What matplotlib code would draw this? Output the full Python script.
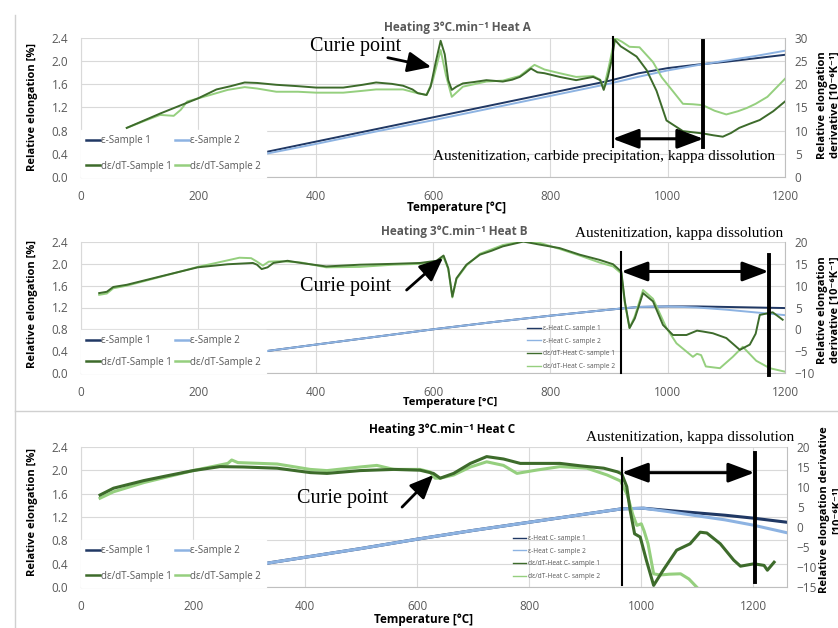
import numpy as np
import matplotlib.pyplot as plt
from matplotlib.lines import Line2D
from matplotlib.ticker import FormatStrFormatter

plt.rcParams['font.family'] = ['Open Sans', 'DejaVu Sans']

# Heat A: relative elongation (left axis, %) and its derivative (right axis)
a_eps_t = [300, 400, 500, 600, 700, 800, 900, 950, 1000, 1050, 1100, 1150, 1200]
a_eps1 = [0.40, 0.61, 0.82, 1.03, 1.24, 1.45, 1.66, 1.79, 1.88, 1.94, 1.99, 2.05, 2.11]
a_eps2 = [0.37, 0.57, 0.78, 0.98, 1.19, 1.40, 1.61, 1.73, 1.84, 1.93, 2.01, 2.09, 2.18]
a_der1_t = [78, 135, 200, 231, 255, 279, 300, 333, 370, 401, 447, 480, 503, 530,
            549, 565, 574, 589, 596, 605, 613, 620, 626, 632, 640, 651, 670, 691,
            719, 735, 748, 758, 767, 778, 790, 816, 844, 860, 873, 885, 891, 898,
            905, 910, 920, 930, 947, 964, 981, 998, 1026, 1060, 1078, 1094, 1108,
            1122, 1140, 1157, 1180, 1200]
a_der1 = [10.6, 13.7, 17.0, 18.9, 19.6, 20.4, 20.3, 19.9, 19.6, 19.3, 19.3, 19.9,
          20.4, 20.1, 19.7, 18.9, 18.1, 17.7, 19.5, 25.0, 29.4, 26.5, 20.9, 18.8,
          19.5, 20.2, 20.5, 20.9, 20.6, 21.0, 21.6, 22.5, 23.4, 22.6, 22.4, 21.6,
          20.9, 21.3, 21.6, 20.9, 18.8, 21.6, 25.5, 29.6, 28.2, 27.4, 26.0, 23.1,
          18.6, 12.2, 9.9, 9.4, 9.0, 8.7, 9.5, 10.6, 11.5, 12.3, 14.2, 16.3]
a_der2_t = [78, 110, 135, 158, 170, 181, 220, 250, 279, 300, 333, 370, 401, 447,
            480, 503, 549, 570, 589, 600, 613, 622, 632, 651, 691, 719, 748, 760,
            773, 790, 816, 844, 873, 885, 891, 900, 910, 922, 935, 952, 975, 990,
            1009, 1026, 1043, 1060, 1080, 1100, 1120, 1135, 1150, 1170, 1200]
a_der2 = [10.6, 12.2, 13.4, 13.2, 14.5, 16.3, 17.7, 18.8, 19.4, 19.1, 18.4, 18.4,
          18.2, 18.2, 18.6, 18.9, 18.9, 18.2, 17.7, 21.0, 27.4, 22.0, 17.3, 19.5,
          20.6, 20.8, 21.8, 23.0, 24.2, 23.2, 22.4, 21.6, 21.8, 21.0, 19.1, 24.0,
          30.0, 29.2, 28.1, 28.0, 24.8, 21.5, 18.5, 15.8, 15.7, 15.5, 14.3, 13.5,
          14.2, 14.9, 15.8, 17.3, 21.2]

# Heat B
b_eps_t = [280, 400, 500, 600, 700, 800, 900, 950, 1000, 1050, 1100, 1150, 1200]
b_eps1 = [0.35, 0.52, 0.66, 0.80, 0.93, 1.05, 1.16, 1.21, 1.22, 1.22, 1.21, 1.20, 1.19]
b_eps2 = [0.35, 0.52, 0.66, 0.80, 0.93, 1.05, 1.16, 1.21, 1.22, 1.20, 1.16, 1.11, 1.06]
b_der1_t = [31, 44, 55, 78, 135, 199, 250, 293, 300, 308, 318, 328, 352, 375, 418,
            475, 532, 578, 606, 618, 626, 633, 640, 657, 680, 700, 719, 754, 782,
            816, 850, 884, 907, 921, 927, 935, 944, 958, 975, 992, 1009, 1032,
            1050, 1060, 1077, 1100, 1123, 1140, 1150, 1157, 1179, 1196]
b_der1 = [8.3, 8.6, 9.7, 10.2, 12.1, 14.2, 14.9, 15.2, 14.8, 13.8, 14.2, 15.2, 15.7,
          15.2, 14.4, 14.8, 15.0, 15.2, 15.7, 16.9, 14.0, 7.5, 11.7, 14.8, 17.1,
          18.0, 19.0, 20.1, 19.4, 18.6, 17.1, 15.9, 14.9, 13.2, 6.4, 0.3, 2.5, 8.3,
          6.4, 1.0, -1.3, -1.3, -0.3, -0.5, -0.9, -2.0, -4.7, -3.5, -1.0, 3.3, 3.9,
          2.2]
b_der2_t = [31, 44, 55, 78, 135, 199, 230, 250, 270, 290, 300, 310, 320, 340, 375,
            418, 475, 532, 578, 606, 618, 626, 633, 640, 657, 680, 719, 754, 782,
            816, 850, 884, 907, 921, 927, 935, 944, 958, 975, 998, 1015, 1043, 1050,
            1057, 1065, 1089, 1111, 1128, 1151, 1174, 1200]
b_der2 = [7.9, 8.2, 9.4, 10.0, 12.0, 14.3, 15.2, 15.8, 16.4, 16.3, 15.5, 14.6, 15.5,
          15.6, 15.3, 14.2, 14.3, 14.8, 15.0, 15.4, 16.5, 13.8, 7.3, 11.5, 14.6,
          17.3, 19.3, 20.2, 19.8, 18.4, 16.9, 15.3, 14.4, 12.8, 6.0, 0.3, 3.0, 9.0,
          7.0, 0.3, -3.2, -6.3, -5.6, -5.9, -8.5, -8.9, -6.3, -4.0, -7.2, -8.9, -9.7]

# Heat C
c_eps_t = [30, 100, 200, 300, 400, 500, 600, 700, 800, 900, 965, 1004, 1050, 1100,
           1150, 1200, 1260]
c_eps1 = [0.0, 0.09, 0.22, 0.36, 0.51, 0.66, 0.82, 0.97, 1.11, 1.25, 1.34, 1.35,
          1.31, 1.27, 1.23, 1.18, 1.11]
c_eps2 = [0.0, 0.09, 0.22, 0.36, 0.51, 0.66, 0.82, 0.97, 1.11, 1.25, 1.34, 1.35,
          1.29, 1.22, 1.15, 1.06, 0.93]
c_der1_t = [34, 58, 112, 150, 200, 248, 290, 350, 409, 439, 498, 558, 605, 623, 629,
            641, 665, 695, 724, 754, 784, 814, 855, 891, 933, 957, 965, 974, 980,
            988, 998, 1009, 1022, 1039, 1063, 1087, 1105, 1117, 1141, 1165, 1177,
            1201, 1219, 1225, 1237]
c_der1 = [8.0, 9.7, 11.6, 12.7, 14.1, 15.1, 15.0, 14.7, 13.6, 13.4, 14.1, 14.4,
          14.2, 13.6, 13.4, 12.2, 13.4, 15.9, 17.6, 17.0, 15.9, 15.9, 15.9, 15.3,
          14.7, 13.8, 13.3, 10.1, 4.2, -1.7, -2.5, -8.3, -14.6, -10.8, -5.8, -4.2,
          -1.3, -1.5, -4.2, -8.3, -9.8, -9.2, -9.6, -10.8, -8.8]
c_der2_t = [34, 58, 112, 200, 248, 262, 269, 280, 350, 409, 439, 498, 528, 558, 605,
            623, 632, 641, 665, 695, 724, 754, 778, 814, 855, 903, 939, 963, 975,
            985, 992, 1000, 1005, 1012, 1022, 1033, 1050, 1070, 1085, 1100]
c_der2 = [7.2, 8.8, 11.1, 14.1, 15.5, 15.9, 16.75, 16.1, 15.75, 14.4, 14.1, 15.0,
          15.4, 14.4, 14.4, 13.75, 12.2, 12.2, 13.0, 15.0, 16.3, 15.4, 13.4, 14.25,
          15.1, 14.7, 13.0, 11.5, 8.0, 3.0, 0.4, 0.8, -1.0, -4.2, -11.7, -12.0,
          -11.8, -11.7, -13.0, -15.2]

W, H = 838, 628
EPS1, EPS2 = '#203864', '#8db3e2'
DER1, DER2 = '#3d6b2b', '#95cf7e'
GREY = '#595959'
SERIF = ['Liberation Serif', 'DejaVu Serif']

fig = plt.figure(figsize=(W / 100, H / 100), dpi=100)


def fx(px):
    return px / W


def fy(py):
    return 1 - py / H


def panel(top, bottom, right, xmax, rlim, eps, der, lw):
    ax = fig.add_axes([fx(81), fy(bottom), (right - 81) / W, (bottom - top) / H])
    ax2 = ax.twinx()
    e1, = ax.plot(eps[0], eps[1], color=EPS1, lw=lw)
    e2, = ax.plot(eps[0], eps[2], color=EPS2, lw=lw)
    d2, = ax2.plot(der[2], der[3], color=DER2, lw=lw)
    d1, = ax2.plot(der[0], der[1], color=DER1, lw=lw)
    ax.set_xlim(0, xmax)
    ax.set_ylim(0, 2.4)
    ax.set_xticks(np.arange(0, 1201, 200))
    ax.set_yticks(np.arange(0, 2.41, 0.4))
    ax.yaxis.set_major_formatter(FormatStrFormatter('%.1f'))
    ax2.set_ylim(*rlim)
    ax2.set_yticks(np.arange(rlim[0], rlim[1] + 1, 5))
    ax.grid(True, color='#d9d9d9', lw=0.8)
    ax.set_axisbelow(True)
    for s in ('top', 'right'):
        ax.spines[s].set_visible(False)
    for s in ('top', 'left', 'bottom'):
        ax2.spines[s].set_visible(False)
    ax.spines['left'].set_color('#d9d9d9')
    ax.spines['bottom'].set_color('#bfbfbf')
    ax2.spines['right'].set_color('#bfbfbf')
    ax.tick_params(length=0, labelsize=8.5, labelcolor=GREY, pad=9)
    ax2.tick_params(length=0, labelsize=8.5, labelcolor=GREY, pad=7)
    return ax, ax2, (e1, e2, d1, d2)


def sample_legend(ax, lines, spacing):
    e1, e2, d1, d2 = lines
    leg = ax.legend([e1, d1, e2, d2],
                    ['ε-Sample 1', 'dε/dT-Sample 1', 'ε-Sample 2', 'dε/dT-Sample 2'],
                    ncol=2, loc='lower left', bbox_to_anchor=(0, 0),
                    borderaxespad=0, fontsize=7, labelspacing=spacing,
                    handlelength=1.4, handletextpad=0.15, columnspacing=0.3,
                    borderpad=0.55, fancybox=False, framealpha=1,
                    facecolor='white', edgecolor='white')
    for t in leg.get_texts():
        t.set_color(GREY)
    for h in leg.legend_handles:
        h.set_linewidth(1.8)


def heat_c_legend(ax2, lines, anchor):
    e1, e2, d1, d2 = lines
    leg = ax2.legend([e1, e2, d1, d2],
                     ['ε-Heat C- sample 1', 'ε-Heat C- sample 2',
                      'dε/dT-Heat C- sample 1', 'dε/dT-Heat C- sample 2'],
                     loc='upper left', bbox_to_anchor=anchor, frameon=False,
                     fontsize=4.8, labelspacing=0.85, handlelength=2.0,
                     handletextpad=0.3, borderpad=0, borderaxespad=0)
    for t in leg.get_texts():
        t.set_color(GREY)
    for h in leg.legend_handles:
        h.set_linewidth(1.0)


def notes(ax, ax2, curie_xy, tail, tip, label, label_xy, v1, v2, arrow_y):
    tr = ax.transData
    ax2.text(*curie_xy, 'Curie point', transform=tr, family=SERIF,
             fontsize=14.5, ha='center', va='center')
    ax2.annotate('', xy=tip, xytext=tail, xycoords=tr, textcoords=tr,
                 arrowprops=dict(arrowstyle='-|>,head_length=0.8,head_width=0.35',
                                 lw=2, color='black', mutation_scale=18,
                                 shrinkA=0, shrinkB=0))
    ax2.text(*label_xy, label, transform=tr, family=SERIF, fontsize=11,
             ha='center', va='center', clip_on=False)
    ax2.plot([v1[0], v1[0]], v1[1:], transform=tr, color='black', lw=1.5,
             clip_on=False)
    ax2.plot([v2[0], v2[0]], v2[1:], transform=tr, color='black', lw=2.8,
             clip_on=False)
    ax2.annotate('', xy=(v2[0], arrow_y), xytext=(v1[0], arrow_y),
                 xycoords=tr, textcoords=tr,
                 arrowprops=dict(arrowstyle='<|-|>,head_length=0.8,head_width=0.3',
                                 lw=2.2, color='black', mutation_scale=20,
                                 shrinkA=0, shrinkB=0))


# Heat A
ax, ax2, lines = panel(38, 177, 785, 1200, (0, 30),
                       (a_eps_t, a_eps1, a_eps2),
                       (a_der1_t, a_der1, a_der2_t, a_der2), 1.4)
sample_legend(ax, lines, 1.5)
notes(ax, ax2, (468, 2.25), (523, 2.06), (597, 1.90),
      'Austenitization, carbide precipitation, kappa dissolution', (891, 0.36),
      (906, 2.42, 0.52), (1061, 2.35, 0.52), 0.66)

# Heat B
ax, ax2, lines = panel(242, 373, 785, 1200, (-10, 20),
                       (b_eps_t, b_eps1, b_eps2),
                       (b_der1_t, b_der1, b_der2_t, b_der2), 1.4)
sample_legend(ax, lines, 1.1)
heat_c_legend(ax2, lines, (0.634, 0.366))
notes(ax, ax2, (451, 1.58), (555, 1.52), (617, 2.11),
      'Austenitization, kappa dissolution', (1019, 2.55),
      (921, 2.22, 0.0), (1172, 2.17, -0.03), 1.86)

# Heat C
ax, ax2, lines = panel(447, 587, 787, 1260, (-15, 20),
                       (c_eps_t, c_eps1, c_eps2),
                       (c_der1_t, c_der1, c_der2_t, c_der2), 2.2)
sample_legend(ax, lines, 1.5)
heat_c_legend(ax2, lines, (0.612, 0.371))
notes(ax, ax2, (466, 1.51), (573, 1.37), (629, 1.92),
      'Austenitization, kappa dissolution', (1087, 2.57),
      (965, 2.21, 0.03), (1202, 2.30, 0.09), 1.96)

# titles and axis titles
title = 'Heating 3°C.min⁻¹ Heat {}'
fig.text(fx(457), fy(28), title.format('A'), color=GREY, fontsize=8.5,
         fontweight='bold', ha='center', va='center')
fig.text(fx(454), fy(232), title.format('B'), color=GREY, fontsize=8.5,
         fontweight='bold', ha='center', va='center')
fig.text(fx(442), fy(429), title.format('C'), color='black', fontsize=8.5,
         fontweight='bold', ha='center', va='center')

for x, y, size in ((457, 208, 8.5), (450, 403, 8), (424, 620, 8.5)):
    fig.text(fx(x), fy(y), 'Temperature [°C]', fontsize=size,
             fontweight='bold', ha='center', va='center')

for y in (107, 304, 512):
    fig.text(fx(33), fy(y), 'Relative elongation [%]', fontsize=8,
             fontweight='bold', rotation=90, ha='center', va='center')

for x, y, txt in ((829, 105, 'Relative elongation\nderivative [10⁻⁶K⁻¹]'),
                  (829, 310, 'Relative elongation\nderivative [10⁻⁶K⁻¹]'),
                  (831, 510, 'Relative elongation derivative\n[10⁻⁶K⁻¹]')):
    fig.text(fx(x), fy(y), txt, fontsize=8, fontweight='bold', rotation=90,
             ha='center', va='center', multialignment='center', linespacing=1.3)

# frame of the stacked charts
fig.add_artist(Line2D([fx(15), fx(15)], [fy(15), fy(628)], color='#d0d0d0', lw=1))
fig.add_artist(Line2D([fx(15), 1], [fy(411), fy(411)], color='#d0d0d0', lw=1))

fig.savefig('out.png', dpi=100)
